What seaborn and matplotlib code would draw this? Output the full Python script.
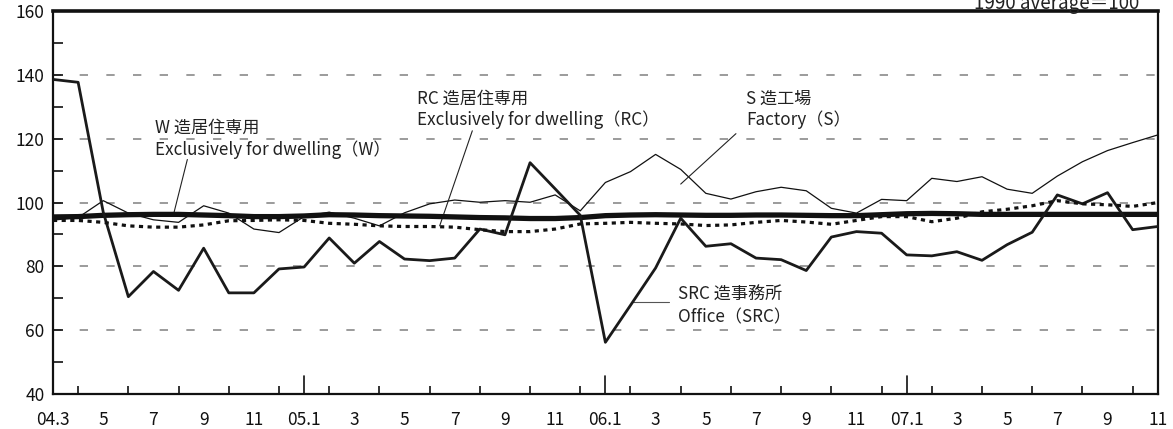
import numpy as np
import pandas as pd
import seaborn as sns
import matplotlib.pyplot as plt
from matplotlib.ticker import MultipleLocator, FixedLocator

sns.set_style("ticks")
plt.rcParams['font.family'] = ['Noto Sans CJK JP', 'DejaVu Sans']

# monthly index 2004.3 - 2007.11 (1990 average = 100)
months = list(range(45))
w_dwelling = [95.5, 95.6, 96.0, 96.2, 96.3, 96.3, 96.1, 95.9, 95.6, 95.6,
              95.8, 96.2, 96.1, 95.9, 95.8, 95.7, 95.5, 95.3, 95.2, 95.0,
              95.0, 95.3, 95.9, 96.1, 96.2, 96.1, 96.0, 96.0, 96.1, 96.1,
              96.0, 95.9, 95.9, 96.2, 96.5, 96.6, 96.5, 96.3, 96.3, 96.3,
              96.3, 96.3, 96.3, 96.3, 96.3]
rc_dwelling = [94.4, 94.4, 93.8, 92.7, 92.3, 92.3, 93.0, 94.3, 94.4, 94.6,
               94.4, 93.5, 93.2, 92.7, 92.5, 92.5, 92.3, 91.5, 90.9, 90.9,
               91.7, 93.3, 93.5, 93.8, 93.5, 93.3, 92.8, 93.0, 93.8, 94.4,
               93.9, 93.2, 94.4, 95.6, 95.6, 94.0, 95.1, 97.1, 97.9, 99.0,
               100.6, 99.6, 99.3, 98.8, 100.0]
s_factory = [94.5, 95.3, 100.6, 96.7, 94.6, 93.8, 99.0, 96.7, 91.7, 90.6,
             95.6, 97.0, 95.1, 92.7, 96.8, 99.6, 100.8, 100.1, 100.6, 100.1,
             102.4, 97.4, 106.3, 109.7, 115.1, 110.4, 102.9, 101.1, 103.4, 104.8,
             103.7, 98.2, 96.7, 101.0, 100.6, 107.6, 106.6, 108.1, 104.2, 102.9,
             108.3, 112.8, 116.3, 118.8, 121.2]
src_office = [138.6, 137.7, 97.0, 70.5, 78.4, 72.5, 85.7, 71.7, 71.7, 79.2,
              79.8, 88.9, 81.0, 87.8, 82.3, 81.8, 82.6, 91.7, 89.9, 112.5,
              104.3, 96.0, 56.2, 67.8, 79.5, 95.1, 86.3, 87.1, 82.6, 82.1,
              78.7, 89.2, 90.9, 90.4, 83.6, 83.3, 84.6, 81.9, 86.8, 90.7,
              102.4, 99.6, 103.1, 91.5, 92.5]

tick_pos = list(range(0, 45, 2))
tick_labels = ["04.3", "5", "7", "9", "11", "05.1", "3", "5", "7", "9", "11",
               "06.1", "3", "5", "7", "9", "11", "07.1", "3", "5", "7", "9", "11"]
jan_pos = [10, 22, 34]

df = pd.DataFrame({"m": months, "W": w_dwelling, "RC": rc_dwelling,
                   "S": s_factory, "SRC": src_office})

fig = plt.figure(figsize=(11.73, 4.29), dpi=100)
ax = fig.add_axes([0.0452, 0.0816, 0.9418, 0.8924])

for y in [60, 80, 100, 120, 140]:
    ax.axhline(y, color="#8a8a8a", lw=1.2, dashes=(5, 11), zorder=0)

sns.lineplot(data=df, x="m", y="W", ax=ax, color="#111111", lw=3.8, zorder=3)
sns.lineplot(data=df, x="m", y="RC", ax=ax, color="#111111", lw=2.3,
             dashes=False, zorder=4).lines[-1].set_dashes((1.3, 1.4))
sns.lineplot(data=df, x="m", y="S", ax=ax, color="#111111", lw=0.9, zorder=2)
sns.lineplot(data=df, x="m", y="SRC", ax=ax, color="#1a1a1a", lw=2.0, zorder=3)

ax.set_xlim(0, 44)
ax.set_ylim(40, 160)
ax.set_xlabel("")
ax.set_ylabel("")

ax.yaxis.set_major_locator(MultipleLocator(20))
ax.yaxis.set_minor_locator(MultipleLocator(10))
ax.tick_params(axis="y", which="both", direction="in", length=7, width=1.2,
               labelsize=12.5, pad=6, colors="#111111")
ax.set_xticks(tick_pos)
ax.set_xticklabels(tick_labels)
ax.xaxis.set_minor_locator(FixedLocator(months))
ax.tick_params(axis="x", which="both", direction="in", length=6, width=1.2,
               labelsize=12.5, pad=12, colors="#111111")
for t in ax.xaxis.get_major_ticks():
    t.tick1line.set_visible(False)
for p in jan_pos:
    ax.plot([p, p], [40, 45.5], color="#111111", lw=1.2, clip_on=False, zorder=5)

for side, w in {"top": 2.6, "left": 1.6, "right": 1.6, "bottom": 1.6}.items():
    ax.spines[side].set_visible(True)
    ax.spines[side].set_linewidth(w)
    ax.spines[side].set_color("#111111")

# labels with leader lines
fs = 12.3
ax.text(4.05, 121.8, "W 造居住専用", fontsize=fs, color="#222222")
ax.text(4.05, 114.8, "Exclusively for dwelling（W）", fontsize=fs, color="#222222")
ax.plot([5.35, 4.8], [113.5, 96.3], color="#222222", lw=0.8)

ax.text(14.5, 131.0, "RC 造居住専用", fontsize=fs, color="#222222")
ax.text(14.5, 124.2, "Exclusively for dwelling（RC）", fontsize=fs, color="#222222")
ax.plot([16.7, 15.4], [122.5, 92.7], color="#222222", lw=0.8)

ax.text(27.6, 131.0, "S 造工場", fontsize=fs, color="#222222")
ax.text(27.6, 124.2, "Factory（S）", fontsize=fs, color="#222222")
ax.plot([27.2, 25.0], [121.6, 105.8], color="#222222", lw=0.8)

ax.text(24.9, 69.4, "SRC 造事務所", fontsize=fs, color="#222222")
ax.text(24.9, 62.6, "Office（SRC）", fontsize=fs, color="#222222")
ax.plot([24.55, 23.1], [68.9, 68.9], color="#555555", lw=0.8)

fig.text(0.971, 0.993, "1990 average＝100", fontsize=13.5, ha="right", va="center",
         color="#222222")

fig.savefig("out.png", dpi=100)
